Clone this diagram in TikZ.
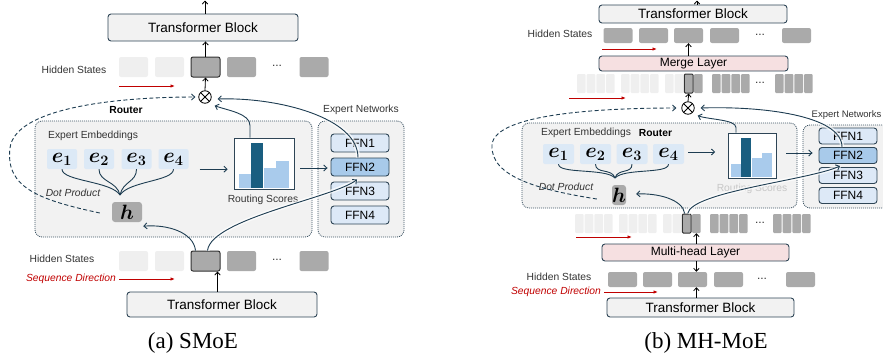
\documentclass[tikz,border=0pt]{standalone}
\usepackage{amsmath,bm}
\usepackage{fontspec}
\setmainfont{Liberation Sans}
\newfontfamily\capfont{Liberation Serif}
\usetikzlibrary{arrows.meta,calc}
\definecolor{bordc}{HTML}{2E4556}
\definecolor{arrc}{HTML}{1E3D52}
\definecolor{dotc}{HTML}{3C5363}
\definecolor{boxg}{HTML}{F2F2F2}
\definecolor{tokg}{HTML}{AAAAAA}
\definecolor{tokl}{HTML}{EFEFEF}
\definecolor{hlb}{HTML}{333333}
\definecolor{eblue}{HTML}{DCE9F6}
\definecolor{ffnl}{HTML}{DDE9F7}
\definecolor{ffnm}{HTML}{A8CAEA}
\definecolor{bard}{HTML}{1A5E80}
\definecolor{barl}{HTML}{A9CBEC}
\definecolor{pinkc}{HTML}{F6E0E1}
\definecolor{redc}{HTML}{C00000}
\definecolor{txtc}{HTML}{333333}
\begin{document}
\begin{tikzpicture}[x=1pt,y=-1pt,
  lbl/.style={font=\fontsize{10.3}{12}\selectfont, text=txtc, inner sep=0},
  lblb/.style={font=\fontsize{10.3}{12}\selectfont\bfseries, text=black, inner sep=0},
  lbli/.style={font=\fontsize{10.3}{12}\selectfont\itshape, text=txtc, inner sep=0},
  tb/.style={draw=bordc, fill=boxg, rounded corners=3pt, line width=0.9pt, inner sep=0, text=black},
  tok/.style={minimum width=29pt, minimum height=20pt, inner sep=0, rounded corners=2pt, fill=tokg},
  ltok/.style={tok, fill=tokl},
  hltok/.style={tok, draw=hlb, line width=1pt},
  ntok/.style={minimum width=8.6pt, minimum height=19pt, inner sep=0, rounded corners=1pt, fill=tokg},
  rbox/.style={draw=dotc, fill=boxg, rounded corners=7pt, dash pattern=on 1pt off 1pt, line width=0.8pt, inner sep=0},
  ebox/.style={fill=eblue, rounded corners=2pt, minimum width=30pt, minimum height=20pt, inner sep=0, font=\fontsize{20.5}{22}\selectfont},
  hbox/.style={fill=tokg, rounded corners=3pt, minimum width=30pt, minimum height=20pt, inner sep=0, font=\fontsize{19.5}{21}\selectfont},
  chart/.style={draw=bordc, fill=white, line width=0.9pt, inner sep=0},
  ffn/.style={draw=bordc, fill=ffnl, rounded corners=3pt, line width=0.9pt, minimum width=58pt, minimum height=18pt, inner sep=0, font=\fontsize{12}{14}\selectfont, text=black},
  oxs/.style={circle, draw=black, line width=0.8pt, minimum size=12.5pt, inner sep=0,
    path picture={\draw[line width=0.8pt] (path picture bounding box.north west) -- (path picture bounding box.south east) (path picture bounding box.north east) -- (path picture bounding box.south west);}},
  arr/.style={draw=arrc, line width=0.9pt, -{Straight Barb[length=3.2pt,width=6pt]}},
  varr/.style={draw=black, line width=0.8pt, -{Straight Barb[length=3pt,width=5.5pt]}},
  rarr/.style={draw=redc, line width=1pt, -{Latex[length=4.5pt,width=3.5pt]}},
  darr/.style={arr, dash pattern=on 4pt off 2.5pt},
  brc/.style={draw=arrc, line width=0.9pt},
  glow/.style={preaction={draw=white, line width=4pt, opacity=0.7, arrows=-}}
]
\useasboundingbox (0,0) rectangle (883,362);
\clip (0,0) rectangle (883,362);

%================ LEFT PANEL (a) =================
\node[tb, minimum width=190pt, minimum height=27pt, font=\fontsize{13.5}{16}\selectfont] (tbTA) at (203,27.5) {Transformer Block};
\node[tb, minimum width=190pt, minimum height=25pt, font=\fontsize{13.5}{16}\selectfont] (tbBA) at (222,304.5) {Transformer Block};
\coordinate (topA) at (205,0.5);
\draw[varr] (tbTA.north -| topA) -- (topA);

% top hidden states
\node[ltok] (a1) at (133.5,67) {};
\node[ltok] (a2) at (169.5,67) {};
\node[hltok] (aH) at (205.5,67) {};
\node[tok] (a4) at (241.5,67) {};
\node[lbl, font=\fontsize{12}{14}\selectfont] (adots) at (277,66) {...};
\node[tok] (a6) at (314,67) {};
\node[lbl] (hsTA) at (74,70) {Hidden States};
\coordinate (rA1s) at (119,86); \coordinate (rA1e) at (175,86);
\draw[rarr] (rA1s) -- (rA1e);
\draw[varr] (aH.north) -- (aH.north |- tbTA.south);

\node[oxs] (oxA) at (205,97) {};
\draw[varr] (oxA.north) -- (aH.south);

% router + expert boxes
\node[rbox, minimum width=277pt, minimum height=116pt] (rA) at (173.5,179) {};
\node[rbox, minimum width=86pt, minimum height=116pt] (xA) at (361,179) {};
\node[lblb] (routerA) at (126,110) {Router};
\node[lbl] (xnA) at (361,110) {Expert Networks};
\node[lbl, anchor=west] (eeA) at (48,136) {Expert Embeddings};

\node[ebox] (e1A) at (62,159) {$\bm{e}_{\bm 1}$};
\node[ebox] (e2A) at (99,159) {$\bm{e}_{\bm 2}$};
\node[ebox] (e3A) at (136.5,159) {$\bm{e}_{\bm 3}$};
\node[ebox] (e4A) at (173.5,159) {$\bm{e}_{\bm 4}$};
\coordinate (mA) at (120,195);
\draw[brc] (e1A.south) .. controls +(0,12) and +(-9,-14) .. (mA);
\draw[brc] (e2A.south) .. controls +(0,13) and +(-3,-14) .. (mA);
\draw[brc] (e3A.south) .. controls +(0,13) and +(3,-14) .. (mA);
\draw[brc] (e4A.south) .. controls +(0,12) and +(9,-14) .. (mA);
\node[lbli] (dpA) at (73,193) {Dot Product};
\node[hbox] (hA) at (127,212) {$\bm{h}$};

\node[chart, minimum width=60pt, minimum height=51pt] (cA) at (264,163.5) {};
\fill[barl] (239,174) rectangle (251,188);
\fill[bard] (251,143) rectangle (263,188);
\fill[barl] (264,168) rectangle (276,188);
\fill[barl] (276,161) rectangle (289,188);
\node[lbl] (rsA) at (263,200) {Routing Scores};

\node[ffn] (f1A) at (360,143) {FFN1};
\node[ffn, fill=ffnm] (f2A) at (360,167) {FFN2};
\node[ffn] (f3A) at (360,191) {FFN3};
\node[ffn] (f4A) at (360,215) {FFN4};

% bottom hidden states
\node[ltok] (b1A) at (133.5,261) {};
\node[ltok] (b2A) at (169.5,261) {};
\node[hltok] (aHb) at (205.5,261) {};
\node[tok] (b4A) at (241.5,261) {};
\node[lbl, font=\fontsize{12}{14}\selectfont] (bdotsA) at (277,260) {...};
\node[tok] (b6A) at (314,261) {};
\node[lbl] (hsBA) at (62,259) {Hidden States};
\node[lbli, text=redc] (sdA) at (71,279) {Sequence Direction};
\coordinate (rA2s) at (119,279); \coordinate (rA2e) at (175,279);
\draw[rarr] (rA2s) -- (rA2e);
\coordinate (abA) at ($(aHb.south)+(12,0)$);
\draw[varr] (tbBA.north -| abA) -- (abA);

% arrows in router
\draw[arr] ($(e4A.south east)+(11,0)$) -- ++(28,0);
\draw[arr] ($(cA.east)+(6,4.5)$) -- ($(f2A.west)+(-3,1)$);
\draw[arr] ($(cA.north)+(-14,0)$) -- ++(0,-12) .. controls +(0,-12) and +(14,5) .. ($(oxA.south east)+(5,4)$);
\draw[arr,glow] ($(f2A.north)+(-2,0)$) .. controls +(0,-40) and +(60,-2) .. ($(oxA.east)+(6,2)$);
\draw[arr] ($(aHb.north)+(-10,0)$) .. controls +(-2,-18) and +(25,-2) .. ($(hA.south east)+(1,4)$);
\draw[arr,glow] ($(aHb.north)+(2,0)$) .. controls +(4,-32) and +(-22,18) .. ($(f2A.south)+(-3,3)$);
\coordinate (dA) at (10,148);
\draw[darr] ($(hA.west)+(-12,1)$) .. controls +(-60,-13) and +(-5,40) .. (dA) .. controls +(5,-40) and +(-80,0) .. ($(oxA.west)+(-3,0)$);

\node[font=\capfont\fontsize{23}{26}\selectfont] (capA) at (193,343) {(a) SMoE};

%================ RIGHT PANEL (b) =================
\node[tb, minimum width=188pt, minimum height=18pt, font=\fontsize{13.5}{16}\selectfont] (tbTB) at (693,14) {Transformer Block};
\coordinate (topB) at (697,0.5);
\draw[varr] (tbTB.north -| topB) -- (topB);

\foreach \x/\n in {618/1,653.5/2,688.5/3,724.5/4,796.5/6}
  \node[tok, minimum height=15pt] (bu\n) at (\x,35.5) {};
\node[lbl, font=\fontsize{12}{14}\selectfont] (budots) at (760,35) {...};
\node[lbl] (hsTB) at (560,34) {Hidden States};
\coordinate (rB1s) at (602,49); \coordinate (rB1e) at (657,49);
\draw[rarr] (rB1s) -- (rB1e);

\node[tb, fill=pinkc, minimum width=189pt, minimum height=15pt, font=\fontsize{12}{14}\selectfont] (mgB) at (693.5,63.5) {Merge Layer};
\draw[varr] (mgB.north -| bu3) -- (bu3.south);

% upper narrow row
\foreach \s in {577,621} \foreach \i in {0,...,3}
  \node[ntok, fill=tokl] at (\s+9.7*\i+4.3,83.5) {};
\node[ntok, fill=tokl] at (665+4.3,83.5) {};
\node[ntok, fill=tokl] at (665+9.7+4.3,83.5) {};
\node[ntok, draw=hlb, line width=1pt] (nU) at (665+19.4+4.3,83.5) {};
\node[ntok] at (665+29.1+4.3,83.5) {};
\foreach \s in {712,775} \foreach \i in {0,...,3}
  \node[ntok] at (\s+9.7*\i+4.3,83.5) {};
\node[lbl, font=\fontsize{12}{14}\selectfont] (nudots) at (760,83) {...};
\coordinate (rB2s) at (569,98); \coordinate (rB2e) at (626,98);
\draw[rarr] (rB2s) -- (rB2e);

\node[oxs] (oxB) at (688,108) {};
\draw[varr] (oxB.north) -- (nU.south);

% router + expert boxes
\node[rbox, minimum width=275pt, minimum height=85pt] (rB) at (659.5,165.5) {};
\node[rbox, minimum width=92pt, minimum height=83pt] (xB) at (849,166.5) {};
\node[lbl, anchor=west] (eeB) at (541,133) {Expert Embeddings};
\node[lblb] (routerB) at (655.5,133) {Router};
\node[lbl, anchor=west, font=\fontsize{9.5}{11}\selectfont] (xnB) at (811.5,115) {Expert Networks};

\node[ebox, minimum width=31pt] (e1B) at (558.5,154) {$\bm{e}_{\bm 1}$};
\node[ebox, minimum width=31pt] (e2B) at (595.5,154) {$\bm{e}_{\bm 2}$};
\node[ebox, minimum width=31pt] (e3B) at (632,154) {$\bm{e}_{\bm 3}$};
\node[ebox, minimum width=31pt] (e4B) at (668.5,154) {$\bm{e}_{\bm 4}$};
\coordinate (mB) at (615,178);
\draw[brc] (e1B.south) .. controls +(0,10) and +(-9,-10) .. (mB);
\draw[brc] (e2B.south) .. controls +(0,10) and +(-3,-10) .. (mB);
\draw[brc] (e3B.south) .. controls +(0,10) and +(3,-10) .. (mB);
\draw[brc] (e4B.south) .. controls +(0,10) and +(9,-10) .. (mB);
\node[lbli] (dpB) at (566,187) {Dot Product};
\node[hbox, minimum width=14pt] (hB) at (619,195) {$\bm{h}$};

\node[chart, minimum width=48pt, minimum height=45pt] (cB) at (752,155.5) {};
\fill[barl] (731,164) rectangle (741,177);
\fill[bard] (741,138) rectangle (751,177);
\fill[barl] (752,158) rectangle (762,177);
\fill[barl] (762,153) rectangle (772,177);
\node[lbl, text=black!22] (rsB) at (752,189) {Routing Scores};

\node[ffn, minimum height=16pt] (f1B) at (848,136) {FFN1};
\node[ffn, minimum height=16pt, fill=ffnm] (f2B) at (848,155.5) {FFN2};
\node[ffn, minimum height=16pt] (f3B) at (848,175.5) {FFN3};
\node[ffn, minimum height=16pt] (f4B) at (848,195.5) {FFN4};

% lower narrow row
\foreach \s in {575,619} \foreach \i in {0,...,3}
  \node[ntok, fill=tokl] at (\s+9.7*\i+4.3,223.5) {};
\node[ntok, fill=tokl] at (663+4.3,223.5) {};
\node[ntok, fill=tokl] at (663+9.7+4.3,223.5) {};
\node[ntok, draw=hlb, line width=1pt] (nL) at (663+19.4+4.3,223.5) {};
\node[ntok] (nG) at (663+29.1+4.3,223.5) {};
\foreach \s in {710,773} \foreach \i in {0,...,3}
  \node[ntok] at (\s+9.7*\i+4.3,223.5) {};
\node[lbl, font=\fontsize{12}{14}\selectfont] (nldots) at (760,223) {...};
\coordinate (rB3s) at (576,237); \coordinate (rB3e) at (632,237);
\draw[rarr] (rB3s) -- (rB3e);

\node[tb, fill=pinkc, minimum width=187pt, minimum height=17pt, font=\fontsize{12}{14}\selectfont] (mhB) at (695.5,252.5) {Multi-head Layer};
\draw[varr] (mhB.north -| nG) -- (nG.south);

% bottom hidden states
\foreach \x/\n in {622.5/1,657.5/2,692.5/3,728.5/4,800.5/6}
  \node[tok, minimum height=15pt] (bl\n) at (\x,279.5) {};
\node[lbl, font=\fontsize{12}{14}\selectfont] (bldots) at (762,279) {...};
\node[lbl] (hsBB) at (559,277) {Hidden States};
\node[lbli, text=redc] (sdB) at (556,292) {Sequence Direction};
\coordinate (rB4s) at (604,292); \coordinate (rB4e) at (658,292);
\draw[rarr] (rB4s) -- (rB4e);
\draw[varr] (mhB.south -| nG) -- (bl3.north -| nG);

\node[tb, minimum width=187pt, minimum height=19pt, font=\fontsize{13.5}{16}\selectfont] (tbBB) at (700.5,307.5) {Transformer Block};
\draw[varr] (tbBB.north -| nG) -- (bl3.south -| nG);

% arrows in router
\draw[arr] ($(e4B.east)+(4,-2)$) -- ++(27,0);
\draw[arr] ($(cB.east)+(10,-2.5)$) -- ($(f2B.west)+(-6,-2.5)$);
\draw[arr] ($(cB.north)+(-16,0)$) -- ++(0,-5) .. controls +(0,-8) and +(12,4) .. ($(oxB.south east)+(5,3)$);
\draw[arr,glow] ($(f2B.north)+(-6,0)$) .. controls +(0,-32) and +(60,-2) .. ($(oxB.east)+(6,0)$);
\draw[arr] ($(nL.north)+(-2,0)$) .. controls +(-2,-14) and +(22,-1) .. ($(hB.east)+(10,-1)$);
\draw[arr,glow] ($(nL.north)+(1,0)$) .. controls +(4,-22) and +(-30,14) .. ($(f2B.south)+(-8,2)$);
\coordinate (dB) at (492,145);
\draw[darr] ($(hB.west)+(-15,4)$) .. controls +(-57,-9) and +(-2,32) .. (dB) .. controls +(2,-32) and +(-70,0) .. ($(oxB.west)+(-5,0)$);

\node[font=\capfont\fontsize{23}{26}\selectfont] (capB) at (706,343) {(b) MH-MoE};
\end{tikzpicture}
\end{document}
